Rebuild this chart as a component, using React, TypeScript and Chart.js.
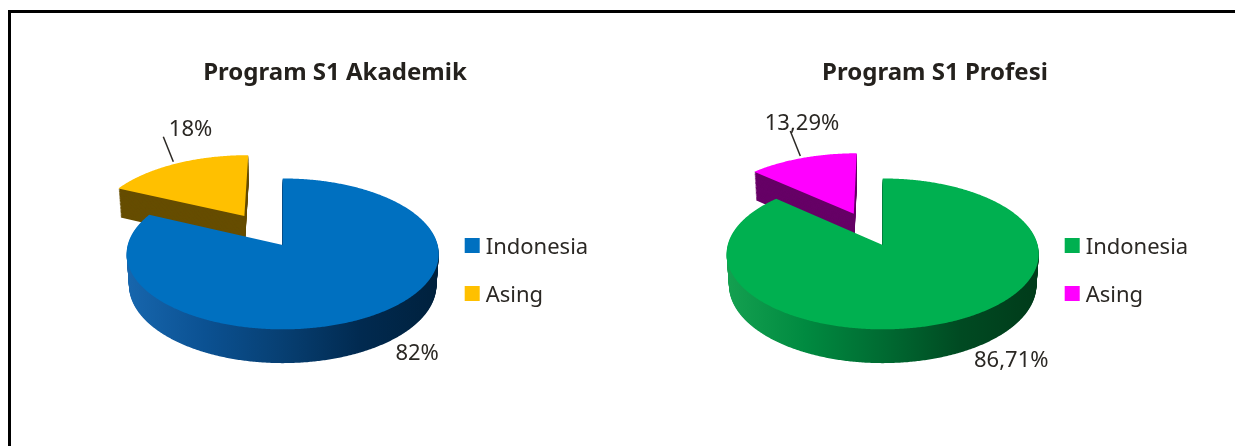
import React, { useEffect, useRef } from 'react';
import { Chart, registerables } from 'chart.js';

Chart.register(...registerables);

// ---- data ----
const categories = ['Indonesia', 'Asing'];
const akademikValues = [82, 18];
const profesiValues = [86.71, 13.29];
const chartTitles = ['Program S1 Akademik', 'Program S1 Profesi'];

// ---- styles ----
const akademikTop = ['#0070c0', '#ffc000'];
const profesiTop = ['#00b050', '#ff00ff'];
const akademikSide = [['#1766ad', '#0b5192', '#073f72', '#012a50', '#00213d'], ['#664d00']];
const profesiSide = [['#14a050', '#008a40', '#006b32', '#004a22', '#003b1a'], ['#660066']];
const explode = [0, 75];

const FONT = '"Noto Sans", sans-serif';
const TEXT = '#2b2824';
const PROJ = { sin: 0.48, cos: 0.877, dist: 1153, depth: 36 };
const fmt = new Intl.NumberFormat('id-ID', { maximumFractionDigits: 2 });

const pie3d = {
  id: 'pie3d',
  beforeDatasetsDraw(chart: any, _args: any, opts: any) {
    const ctx: CanvasRenderingContext2D = chart.ctx;
    const meta = chart.getDatasetMeta(0);
    const arcs = meta.data;
    const values = chart.data.datasets[0].data as number[];
    const labels = chart.data.labels as string[];
    const { sin: s, cos: c, dist: L, depth: D } = PROJ;
    const cx = arcs[0].x;
    const cy = arcs[0].y;
    const R = arcs[0].outerRadius;
    const P = (x: number, z: number, h: number) => {
      const k = L / (L - (h * s + z * c));
      return [cx + x * k, cy + (z * s - h * c) * k];
    };
    const items = arcs.map((a: any, i: number) => {
      const m = (a.startAngle + a.endAngle) / 2;
      const e = a.options.offset || 0;
      return { i, a0: a.startAngle, a1: a.endAngle, m, e, ox: Math.cos(m) * e, oz: Math.sin(m) * e, color: a.options.backgroundColor };
    });
    const path = (it: any, h: number) => {
      ctx.beginPath();
      let p = P(it.ox, it.oz, h);
      ctx.moveTo(p[0], p[1]);
      const n = Math.max(2, Math.ceil((it.a1 - it.a0) / (Math.PI / 360)));
      for (let j = 0; j <= n; j++) {
        const t = it.a0 + ((it.a1 - it.a0) * j) / n;
        p = P(it.ox + R * Math.cos(t), it.oz + R * Math.sin(t), h);
        ctx.lineTo(p[0], p[1]);
      }
      ctx.closePath();
    };
    ctx.save();
    const order = [...items].sort((u, v) => u.oz - v.oz);
    for (const it of order) {
      const stops: string[] = opts.side[it.i];
      let fill: any;
      if (stops.length === 1) fill = stops[0];
      else {
        const g = ctx.createLinearGradient(cx - R, 0, cx + R, 0);
        stops.forEach((col, j) => g.addColorStop(j / (stops.length - 1), col));
        fill = g;
      }
      ctx.fillStyle = fill;
      for (let h = -D; h < 0; h += 1) {
        path(it, h);
        ctx.fill();
      }
      path(it, 0);
      ctx.fillStyle = it.color;
      ctx.fill();
    }

    // data labels
    ctx.fillStyle = TEXT;
    ctx.strokeStyle = TEXT;
    ctx.lineWidth = 1.5;
    ctx.font = `22px ${FONT}`;
    ctx.textBaseline = 'alphabetic';
    for (const it of items) {
      const txt = fmt.format(values[it.i]) + '%';
      if (it.e > 0) {
        const a = P(it.ox + R * Math.cos(it.m), it.oz + R * Math.sin(it.m), 0);
        ctx.textAlign = 'right';
        ctx.fillText(txt, a[0] + 37, a[1] - 28);
        ctx.beginPath();
        ctx.moveTo(a[0] - 12, a[1] - 27);
        ctx.lineTo(a[0] - 2, a[1] - 2);
        ctx.stroke();
      } else {
        const a = P(R * Math.cos(it.m), R * Math.sin(it.m), -D);
        ctx.textAlign = 'left';
        ctx.fillText(txt, a[0] + 22, a[1] + 12);
      }
    }

    // legend
    ctx.textAlign = 'left';
    items.forEach((it: any, i: number) => {
      ctx.fillStyle = it.color;
      ctx.fillRect(cx + 182, cy - 7 + 48 * i, 15, 15);
      ctx.fillStyle = TEXT;
      ctx.fillText(labels[i], cx + 203, cy + 9 + 47.5 * i);
    });

    // title
    ctx.font = `bold 24px ${FONT}`;
    ctx.textAlign = 'center';
    ctx.fillStyle = '#24211d';
    ctx.fillText(opts.title, chart.width / 2, 67);
    ctx.restore();
    return false;
  },
};

function PieChart(props: { values: number[]; title: string; top: string[]; side: string[][]; left: number }) {
  const ref = useRef<HTMLCanvasElement>(null);
  useEffect(() => {
    const chart = new Chart(ref.current as HTMLCanvasElement, {
      type: 'pie',
      data: {
        labels: categories,
        datasets: [
          {
            data: props.values,
            backgroundColor: props.top,
            offset: explode,
            borderWidth: 0,
            radius: 155,
          } as any,
        ],
      },
      options: {
        responsive: false,
        animation: false,
        events: [],
        radius: 155,
        layout: { padding: { left: 0, right: 104.6, top: 31, bottom: 0 } },
        plugins: {
          legend: { display: false },
          title: { display: false },
          tooltip: { enabled: false },
          pie3d: { title: props.title, side: props.side },
        },
      } as any,
      plugins: [pie3d as any],
    });
    return () => chart.destroy();
  }, []);
  return (
    <canvas
      ref={ref}
      width={600}
      height={433}
      style={{ position: 'absolute', left: props.left, top: 13, width: 600, height: 433, display: 'block' }}
    />
  );
}

export default function App() {
  return (
    <div style={{ position: 'fixed', left: 0, top: 0, width: 1235, height: 446, overflow: 'hidden', background: '#fff' }}>
      <div
        style={{
          position: 'absolute',
          left: 8,
          top: 10,
          width: 1227,
          height: 436,
          borderTop: '3px solid #000',
          borderLeft: '3px solid #000',
          boxSizing: 'border-box',
        }}
      />
      <PieChart values={akademikValues} title={chartTitles[0]} top={akademikTop} side={akademikSide} left={35} />
      <PieChart values={profesiValues} title={chartTitles[1]} top={profesiTop} side={profesiSide} left={635} />
    </div>
  );
}
